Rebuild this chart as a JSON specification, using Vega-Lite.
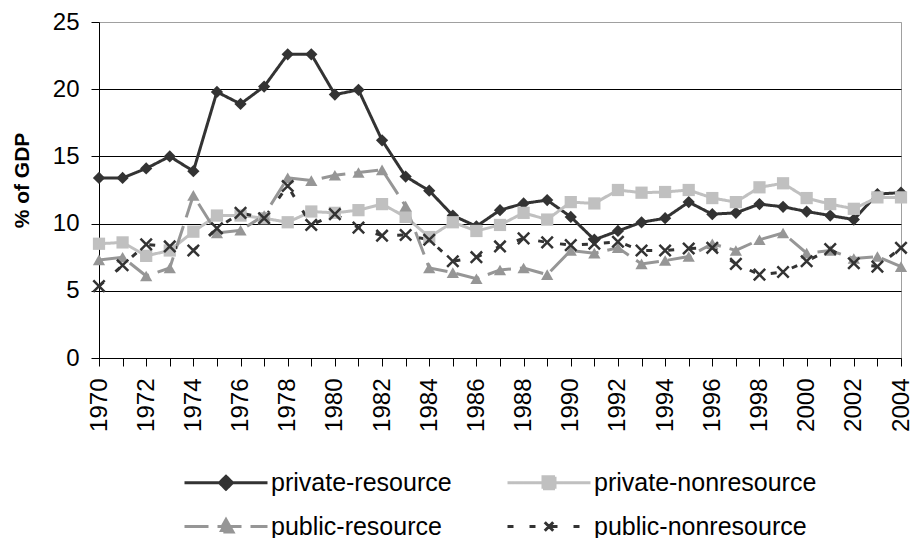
{
  "$schema": "https://vega.github.io/schema/vega-lite/v6.json",
  "width": 802,
  "height": 336,
  "autosize": {"type": "none"},
  "padding": {"left": 99, "top": 22, "right": 10, "bottom": 180},
  "background": "white",
  "config": {
    "font": "Liberation Sans",
    "view": {"stroke": "#a0a0a0", "strokeWidth": 1},
    "axis": {"labelColor": "black", "titleColor": "black", "domainColor": "black", "tickColor": "black", "labelFont": "Liberation Sans", "titleFont": "Liberation Sans"}
  },
  "data": {
    "values": [
      {"year": 1970, "private-resource": 13.4, "private-nonresource": 8.5, "public-resource": 7.3, "public-nonresource": 5.35},
      {"year": 1971, "private-resource": 13.4, "private-nonresource": 8.6, "public-resource": 7.5, "public-nonresource": 6.9},
      {"year": 1972, "private-resource": 14.1, "private-nonresource": 7.6, "public-resource": 6.1, "public-nonresource": 8.45},
      {"year": 1973, "private-resource": 15.0, "private-nonresource": 8.0, "public-resource": 6.7, "public-nonresource": 8.3},
      {"year": 1974, "private-resource": 13.9, "private-nonresource": 9.4, "public-resource": 12.1, "public-nonresource": 8.0},
      {"year": 1975, "private-resource": 19.8, "private-nonresource": 10.6, "public-resource": 9.3, "public-nonresource": 9.65},
      {"year": 1976, "private-resource": 18.9, "private-nonresource": 10.6, "public-resource": 9.5, "public-nonresource": 10.8},
      {"year": 1977, "private-resource": 20.2, "private-nonresource": 10.4, "public-resource": 10.6, "public-nonresource": 10.4},
      {"year": 1978, "private-resource": 22.6, "private-nonresource": 10.1, "public-resource": 13.4, "public-nonresource": 12.8},
      {"year": 1979, "private-resource": 22.6, "private-nonresource": 10.9, "public-resource": 13.2, "public-nonresource": 9.9},
      {"year": 1980, "private-resource": 19.6, "private-nonresource": 10.8, "public-resource": 13.6, "public-nonresource": 10.7},
      {"year": 1981, "private-resource": 19.95, "private-nonresource": 11.0, "public-resource": 13.8, "public-nonresource": 9.7},
      {"year": 1982, "private-resource": 16.2, "private-nonresource": 11.45, "public-resource": 14.0, "public-nonresource": 9.1},
      {"year": 1983, "private-resource": 13.5, "private-nonresource": 10.5, "public-resource": 11.3, "public-nonresource": 9.15},
      {"year": 1984, "private-resource": 12.45, "private-nonresource": 9.0, "public-resource": 6.7, "public-nonresource": 8.8},
      {"year": 1985, "private-resource": 10.6, "private-nonresource": 10.1, "public-resource": 6.35, "public-nonresource": 7.2},
      {"year": 1986, "private-resource": 9.8, "private-nonresource": 9.45, "public-resource": 5.9, "public-nonresource": 7.5},
      {"year": 1987, "private-resource": 11.0, "private-nonresource": 9.9, "public-resource": 6.55, "public-nonresource": 8.3},
      {"year": 1988, "private-resource": 11.5, "private-nonresource": 10.8, "public-resource": 6.7, "public-nonresource": 8.9},
      {"year": 1989, "private-resource": 11.75, "private-nonresource": 10.3, "public-resource": 6.2, "public-nonresource": 8.6},
      {"year": 1990, "private-resource": 10.5, "private-nonresource": 11.6, "public-resource": 8.0, "public-nonresource": 8.4},
      {"year": 1991, "private-resource": 8.8, "private-nonresource": 11.5, "public-resource": 7.8, "public-nonresource": 8.5},
      {"year": 1992, "private-resource": 9.45, "private-nonresource": 12.5, "public-resource": 8.2, "public-nonresource": 8.65},
      {"year": 1993, "private-resource": 10.1, "private-nonresource": 12.3, "public-resource": 7.0, "public-nonresource": 8.0},
      {"year": 1994, "private-resource": 10.4, "private-nonresource": 12.35, "public-resource": 7.25, "public-nonresource": 8.0},
      {"year": 1995, "private-resource": 11.6, "private-nonresource": 12.5, "public-resource": 7.55, "public-nonresource": 8.15},
      {"year": 1996, "private-resource": 10.7, "private-nonresource": 11.9, "public-resource": 8.5, "public-nonresource": 8.2},
      {"year": 1997, "private-resource": 10.8, "private-nonresource": 11.6, "public-resource": 8.0, "public-nonresource": 7.0},
      {"year": 1998, "private-resource": 11.45, "private-nonresource": 12.7, "public-resource": 8.8, "public-nonresource": 6.2},
      {"year": 1999, "private-resource": 11.25, "private-nonresource": 13.0, "public-resource": 9.3, "public-nonresource": 6.4},
      {"year": 2000, "private-resource": 10.9, "private-nonresource": 11.9, "public-resource": 7.8, "public-nonresource": 7.2},
      {"year": 2001, "private-resource": 10.6, "private-nonresource": 11.45, "public-resource": 8.0, "public-nonresource": 8.1},
      {"year": 2002, "private-resource": 10.3, "private-nonresource": 11.1, "public-resource": 7.4, "public-nonresource": 7.05},
      {"year": 2003, "private-resource": 12.2, "private-nonresource": 11.95, "public-resource": 7.55, "public-nonresource": 6.8},
      {"year": 2004, "private-resource": 12.3, "private-nonresource": 11.95, "public-resource": 6.8, "public-nonresource": 8.2}
    ]
  },
  "transform": [
    {"fold": ["private-resource", "private-nonresource", "public-resource", "public-nonresource"], "as": ["series", "value"]}
  ],
  "encoding": {
    "x": {
      "field": "year", "type": "quantitative",
      "scale": {"domain": [1970, 2004], "nice": false, "zero": false},
      "axis": {
        "title": null, "grid": false,
        "values": [1970,1971,1972,1973,1974,1975,1976,1977,1978,1979,1980,1981,1982,1983,1984,1985,1986,1987,1988,1989,1990,1991,1992,1993,1994,1995,1996,1997,1998,1999,2000,2001,2002,2003,2004],
        "format": "d",
        "labelExpr": "datum.value % 2 === 0 ? datum.label : ''",
        "labelAngle": -90, "labelFontSize": 24, "labelPadding": 12, "tickSize": 8, "labelOverlap": false, "labelFlush": false, "labelBound": false
      }
    },
    "y": {
      "field": "value", "type": "quantitative",
      "scale": {"domain": [0, 25], "nice": false},
      "axis": {
        "values": [0, 5, 10, 15, 20, 25],
        "title": "% of GDP", "titleFontSize": 21, "titleFontWeight": "bold",
        "titleX": -77, "titleY": 158, "titleAlign": "center", "titleBaseline": "middle", "titleAngle": -90,
        "labelFontSize": 24, "labelPadding": 12, "tickSize": 8,
        "grid": true, "gridColor": {"condition": {"test": "datum.value === 25", "value": "#a0a0a0"}, "value": "black"}, "gridWidth": 1
      }
    }
  },
  "layer": [
    {
      "mark": {"type": "line", "strokeWidth": 3},
      "encoding": {
        "color": {
          "field": "series", "type": "nominal",
          "scale": {"domain": ["private-resource", "private-nonresource", "public-resource", "public-nonresource"], "range": ["#333333", "#c0c0c0", "#969696", "#333333"]},
          "legend": {
            "title": null, "orient": "none", "legendX": 78, "legendY": 448, "columns": 2, "direction": "horizontal",
            "columnPadding": 48, "rowPadding": 17, "symbolSize": 100, "symbolStrokeWidth": 3,
            "labelFontSize": 25, "labelFont": "Liberation Sans", "labelColor": "black", "labelOffset": 69, "labelLimit": 400,
            "encode": {
              "symbols": {
                "update": {
                  "shape": {"signal": "datum.value === 'private-resource' ? 'M-1,0H15.6M7.3,-1.3L8.6,0L7.3,1.3L6,0Z' : datum.value === 'private-nonresource' ? 'M-1,0H15.6M6.1,-1.2H8.5V1.2H6.1Z' : datum.value === 'public-resource' ? 'M-1,0H15.6M7.3,-1.4L8.7,1.1L5.9,1.1Z' : 'M-1,0H15.6M7.3,0L6.3,-1M7.3,0L8.3,1M7.3,0L6.3,1M7.3,0L8.3,-1'"},
                  "fill": {"signal": "datum.value === 'public-nonresource' ? 'transparent' : scale('color', datum.value)"},
                  "size": {"value": 100},
                  "strokeWidth": {"value": 3},
                  "opacity": {"value": 1}
                }
              }
            }
          }
        },
        "strokeDash": {
          "field": "series", "type": "nominal",
          "scale": {"domain": ["private-resource", "private-nonresource", "public-resource", "public-nonresource"], "range": [[1, 0], [1, 0], [24, 9], [6, 16]]},
          "legend": {
            "title": null, "orient": "none", "legendX": 78, "legendY": 448, "columns": 2, "direction": "horizontal",
            "columnPadding": 48, "rowPadding": 17, "symbolSize": 100, "symbolStrokeWidth": 3,
            "labelFontSize": 25, "labelFont": "Liberation Sans", "labelColor": "black", "labelOffset": 69, "labelLimit": 400
          }
        },
        "detail": {"field": "series"}
      }
    },
    {
      "transform": [{"filter": "datum.series !== 'public-nonresource'"}],
      "mark": {"type": "point", "filled": true, "opacity": 1},
      "encoding": {
        "fill": {
          "field": "series", "type": "nominal",
          "scale": {"domain": ["private-resource", "private-nonresource", "public-resource"], "range": ["#333333", "#c0c0c0", "#969696"]},
          "legend": null
        },
        "shape": {
          "field": "series", "type": "nominal",
          "scale": {"domain": ["private-resource", "private-nonresource", "public-resource"], "range": ["diamond", "square", "triangle-up"]},
          "legend": null
        },
        "size": {"value": 150}
      }
    },
    {
      "transform": [{"filter": "datum.series === 'public-nonresource'"}],
      "mark": {"type": "point", "filled": false, "opacity": 1, "shape": "M-1,-1L1,1M-1,1L1,-1", "stroke": "#333333", "strokeWidth": 2.5, "size": 130},
      "encoding": {}
    }
  ]
}
